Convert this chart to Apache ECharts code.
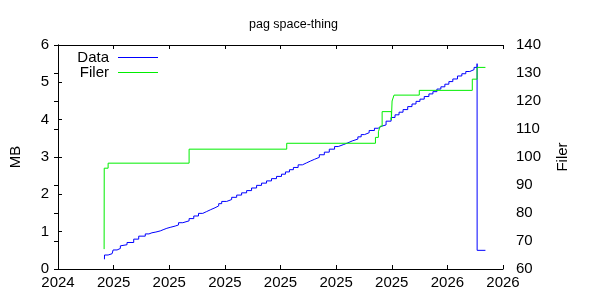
<!DOCTYPE html>
<html>
<head>
<meta charset="utf-8">
<script src="https://cdn.jsdelivr.net/npm/echarts@6/dist/echarts.min.js"></script>
<style>html,body{margin:0;padding:0;background:#fff}#c{width:600px;height:300px}</style>
</head>
<body>
<div id="c"></div>
<script>
// x positions are in tick-interval units (0 = first tick, 8 = last tick)
const tickLabels = ['2024','2025','2025','2025','2025','2025','2025','2026','2026'];

const dataX  = [0.835,0.836,0.901,0.973,0.991,1.062,1.121,1.152,1.241,1.361,1.451,1.569,1.635,1.689,1.760,1.838,1.904,1.957,2.029,2.106,
  2.167,2.244,2.357,2.441,2.526,2.603,2.674,2.746,2.823,2.889,2.943,3.032,3.122,3.212,3.301,3.391,3.480,3.570,3.659,3.749,3.838,3.928,
  4.018,4.089,4.161,4.232,4.317,4.394,4.465,4.537,4.614,4.698,4.788,4.877,4.972,5.038,5.128,5.212,5.289,5.391,5.450,5.510,5.594,5.689,
  5.755,5.809,5.898,5.988,6.059,6.131,6.203,6.287,6.364,6.436,6.507,6.584,6.668,6.740,6.812,6.883,6.955,7.027,7.098,7.182,7.260,7.331,
  7.403,7.480,7.534,7.535,7.684];
const dataMB = [0.26,0.375,0.41,0.45,0.51,0.55,0.62,0.65,0.71,0.80,0.88,0.94,0.97,0.99,1.02,1.06,1.09,1.12,1.15,1.18,
  1.24,1.29,1.35,1.42,1.49,1.54,1.59,1.64,1.69,1.75,1.81,1.86,1.92,1.98,2.04,2.10,2.17,2.24,2.30,2.36,2.42,2.48,
  2.54,2.60,2.66,2.72,2.79,2.84,2.89,2.94,2.99,3.06,3.13,3.21,3.28,3.33,3.38,3.43,3.48,3.54,3.60,3.65,3.71,3.77,
  3.82,3.86,3.96,4.06,4.13,4.20,4.27,4.35,4.42,4.49,4.55,4.62,4.69,4.75,4.82,4.88,4.95,5.02,5.09,5.17,5.23,5.29,
  5.34,5.40,5.50,0.5,0.5];

const filerX   = [0.829,0.831,0.901,2.357,4.112,5.707,5.760,5.791,5.827,5.993,6.006,6.041,6.495,7.448,7.534,7.684];
const filerVal = [67.1,96.0,97.8,102.8,104.9,107.0,109.0,111.0,116.2,113.2,120.0,122.1,123.8,127.8,132.0,132.0];

const font = 'Liberation Sans, Arial, sans-serif';
const chart = echarts.init(document.getElementById('c'), null, {renderer:'canvas'});
const pairs = (xs, ys) => xs.map((x,i)=>[x, ys[i]]);

const legendBase = {
  orient:'horizontal', align:'right', icon:'rect', itemWidth:40, itemHeight:1,
  textStyle:{fontFamily:font, fontSize:15, color:'#000', padding:[0,4,0,0]}
};

chart.setOption({
  animation:false,
  backgroundColor:'#fff',
  title:{text:'pag space-thing', left:244, top:13,
    textStyle:{fontFamily:font, fontSize:12.5, fontWeight:'normal', color:'#000'}},
  legend:[
    Object.assign({}, legendBase, {data:['Data'], right:437, top:45}),
    Object.assign({}, legendBase, {data:['Filer'], right:437, top:60})
  ],
  grid:{left:55, right:97, top:45, bottom:31, containLabel:false},
  xAxis:[
    {type:'value', min:0, max:8, interval:1, position:'bottom',
     axisLine:{show:true, lineStyle:{color:'#000', width:1}},
     axisTick:{show:true, inside:true, length:4, lineStyle:{color:'#000'}},
     splitLine:{show:false},
     axisLabel:{margin:6, fontFamily:font, fontSize:15, color:'#000',
       formatter:(v)=>tickLabels[Math.round(v)]}},
    {type:'value', min:0, max:8, interval:1, position:'top',
     axisLine:{show:true, lineStyle:{color:'#000', width:1}},
     axisTick:{show:true, inside:true, length:4, lineStyle:{color:'#000'}},
     splitLine:{show:false}, axisLabel:{show:false}}
  ],
  yAxis:[
    {type:'value', min:0, max:6, interval:1, position:'left',
     name:'MB', nameLocation:'middle', nameGap:35, nameRotate:90,
     nameTextStyle:{fontFamily:font, fontSize:15, color:'#000'},
     axisLine:{show:true, lineStyle:{color:'#000', width:1}},
     axisTick:{show:true, inside:true, length:4, lineStyle:{color:'#000'}},
     splitLine:{show:false},
     axisLabel:{margin:9, fontFamily:font, fontSize:15, color:'#000'}},
    {type:'value', min:60, max:140, interval:10, position:'right',
     name:'Filer', nameLocation:'middle', nameGap:52, nameRotate:90,
     nameTextStyle:{fontFamily:font, fontSize:15, color:'#000'},
     axisLine:{show:true, lineStyle:{color:'#000', width:1}},
     axisTick:{show:true, inside:true, length:4, lineStyle:{color:'#000'}},
     splitLine:{show:false},
     axisLabel:{margin:13, fontFamily:font, fontSize:15, color:'#000'}}
  ],
  series:[
    {name:'Data', type:'line', step:'end', xAxisIndex:0, yAxisIndex:0,
     data:pairs(dataX, dataMB), showSymbol:false, symbol:'none',
     color:'#0000ff', lineStyle:{color:'#0000ff', width:1}},
    {name:'Filer', type:'line', step:'end', xAxisIndex:0, yAxisIndex:1,
     data:pairs(filerX, filerVal), showSymbol:false, symbol:'none',
     color:'#00ee00', lineStyle:{color:'#00ee00', width:1}}
  ]
});
</script>
</body>
</html>
